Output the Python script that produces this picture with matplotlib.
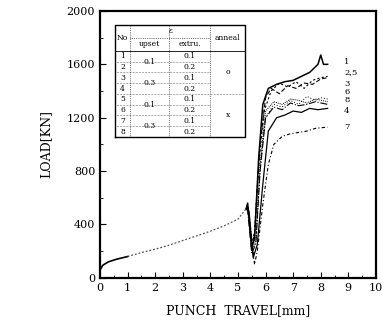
import matplotlib
matplotlib.use("Agg")
import matplotlib.pyplot as plt

plt.rcParams['font.family'] = ['DejaVu Serif']

# shared loading part (all specimens overlap up to ~5.3 mm)
travel_common = [0.0, 0.1, 0.3, 0.6, 1.0, 1.5, 2.0, 2.5, 3.0, 3.5, 4.0, 4.5, 5.0, 5.3]
load_common = [60, 95, 120, 140, 160, 190, 215, 245, 280, 315, 350, 390, 440, 520]

# after the drop: each specimen separately
curves = {
    "1": ([5.35, 5.5, 5.6, 5.75, 5.9, 6.1, 6.4, 6.7, 7.0, 7.3, 7.6, 7.9, 8.0, 8.1, 8.25],
          [560, 220, 300, 900, 1300, 1420, 1450, 1470, 1480, 1510, 1540, 1600, 1670, 1600, 1600]),
    "2": ([5.35, 5.5, 5.6, 5.75, 5.95, 6.2, 6.5, 6.8, 7.1, 7.4, 7.7, 8.0, 8.25],
          [540, 240, 350, 850, 1250, 1400, 1460, 1430, 1470, 1420, 1480, 1500, 1510]),
    "3": ([5.35, 5.5, 5.65, 5.8, 6.0, 6.3, 6.6, 6.9, 7.2, 7.5, 7.8, 8.0, 8.25],
          [530, 250, 300, 800, 1200, 1300, 1280, 1330, 1300, 1360, 1330, 1350, 1340]),
    "4": ([5.4, 5.55, 5.7, 5.9, 6.1, 6.4, 6.7, 7.0, 7.3, 7.6, 7.9, 8.25],
          [500, 150, 250, 700, 1100, 1200, 1220, 1250, 1240, 1270, 1260, 1270]),
    "5": ([5.35, 5.5, 5.6, 5.8, 6.0, 6.2, 6.5, 6.8, 7.1, 7.4, 7.7, 8.0, 8.25],
          [550, 260, 320, 1000, 1350, 1420, 1380, 1440, 1420, 1460, 1450, 1490, 1500]),
    "6": ([5.35, 5.5, 5.65, 5.8, 6.0, 6.3, 6.6, 6.9, 7.2, 7.5, 7.8, 8.25],
          [520, 200, 280, 850, 1250, 1320, 1300, 1340, 1330, 1310, 1340, 1320]),
    "7": ([5.4, 5.6, 5.7, 5.9, 6.1, 6.3, 6.6, 6.9, 7.2, 7.5, 7.8, 8.25],
          [480, 100, 200, 550, 850, 1000, 1060, 1080, 1090, 1100, 1120, 1130]),
    "8": ([5.35, 5.5, 5.65, 5.8, 6.0, 6.3, 6.6, 6.9, 7.2, 7.5, 7.8, 8.25],
          [510, 180, 260, 800, 1200, 1280, 1260, 1310, 1290, 1300, 1320, 1300]),
}
styles = {"1": "-", "2": (0, (2, 2)), "3": (0, (1, 2)), "4": "-",
          "5": (0, (4, 2)), "6": (0, (1, 1)), "7": (0, (3, 2, 1, 2)), "8": "-."}
widths = {"1": 1.1, "2": 0.8, "3": 0.7, "4": 0.9, "5": 0.8, "6": 0.7, "7": 0.8, "8": 0.8}

end_labels = ["1", "2,5", "3", "6", "8", "4", "7"]
end_label_loads = [1615, 1540, 1450, 1390, 1330, 1250, 1130]

# table content
table_no = ["1", "2", "3", "4", "5", "6", "7", "8"]
table_upset = ["0.1", "0.3", "0.1", "0.3"]
table_extru = ["0.1", "0.2", "0.1", "0.2", "0.1", "0.2", "0.1", "0.2"]
table_anneal = ["o", "x"]

fig = plt.figure(figsize=(3.82, 3.32), dpi=100)
ax = fig.add_axes([0.262, 0.163, 0.722, 0.804])

# common part: solid at start, then faint dotted like the scan
ax.plot(travel_common[:5], load_common[:5], color="black", linewidth=1.2)
ax.plot(travel_common[4:], load_common[4:], color="#555555", linewidth=0.9,
        linestyle=(0, (1.5, 1.5)))

for key, (xs, ys) in curves.items():
    ax.plot(travel_common[-1:] + xs, load_common[-1:] + ys, color="black",
            linestyle=styles[key], linewidth=widths[key])

for lab, ld in zip(end_labels, end_label_loads):
    ax.text(8.85, ld, lab, fontsize=6, va="center", ha="left")

ax.set_xlim(0, 10)
ax.set_ylim(0, 2000)
ax.set_xticks(range(0, 11))
ax.set_xticks([i + 0.5 for i in range(10)], minor=True)
ax.set_yticks(range(0, 2001, 400))
ax.set_yticks(range(200, 2000, 400), minor=True)
ax.tick_params(direction="in", labelsize=8, length=4, width=0.8)
ax.tick_params(which="minor", direction="in", length=2, width=0.6)
for s in ax.spines.values():
    s.set_linewidth(1.6)
ax.set_xlabel("PUNCH  TRAVEL[mm]", fontsize=9, labelpad=8)
ax.set_ylabel("LOAD[KN]", fontsize=9, labelpad=10)

# table drawn in axes fraction
tx0, tx1 = 0.054, 0.525
ty1, ty0 = 0.948, 0.528
cols = [0.054, 0.11, 0.25, 0.40, 0.525]
head = 0.85
rows = [head - i * (head - ty0) / 8 for i in range(9)]
tr = ax.transAxes
ax.plot([tx0, tx1, tx1, tx0, tx0], [ty0, ty0, ty1, ty1, ty0], color="black",
        linewidth=1.0, transform=tr)
for c in cols[1:-1]:
    ax.plot([c, c], [ty0, ty1], color="black", linewidth=0.5, linestyle=":", transform=tr)
ax.plot([cols[1], cols[3]], [0.90, 0.90], color="black", linewidth=0.5, linestyle=":", transform=tr)
ax.plot([tx0, tx1], [head, head], color="black", linewidth=0.6, transform=tr)
for i, r in enumerate(rows[1:-1]):
    x_end = cols[3] if i != 3 else tx1
    ax.plot([cols[0], x_end], [r, r], color="black", linewidth=0.4, linestyle=":", transform=tr)

fs = 5.5
ax.text((cols[0] + cols[1]) / 2, (head + ty1) / 2, "No", fontsize=fs, ha="center", va="center", transform=tr)
ax.text((cols[1] + cols[3]) / 2, 0.925, "\u03b5", fontsize=fs, ha="center", va="center", transform=tr)
ax.text((cols[1] + cols[2]) / 2, 0.875, "upset", fontsize=fs, ha="center", va="center", transform=tr)
ax.text((cols[2] + cols[3]) / 2, 0.875, "extru.", fontsize=fs, ha="center", va="center", transform=tr)
ax.text((cols[3] + cols[4]) / 2, (head + ty1) / 2, "anneal", fontsize=fs, ha="center", va="center", transform=tr)
for i in range(8):
    yc = (rows[i] + rows[i + 1]) / 2
    ax.text((cols[0] + cols[1]) / 2, yc, table_no[i], fontsize=fs, ha="center", va="center", transform=tr)
    ax.text((cols[2] + cols[3]) / 2, yc, table_extru[i], fontsize=fs, ha="center", va="center", transform=tr)
for j in range(4):
    ax.text((cols[1] + cols[2]) / 2, rows[2 * j + 1], table_upset[j], fontsize=fs,
            ha="center", va="center", transform=tr)
for j in range(2):
    ax.text((cols[3] + cols[4]) / 2, rows[4 * j + 2], table_anneal[j], fontsize=fs,
            ha="center", va="center", transform=tr)

fig.savefig("out.png", dpi=100)
